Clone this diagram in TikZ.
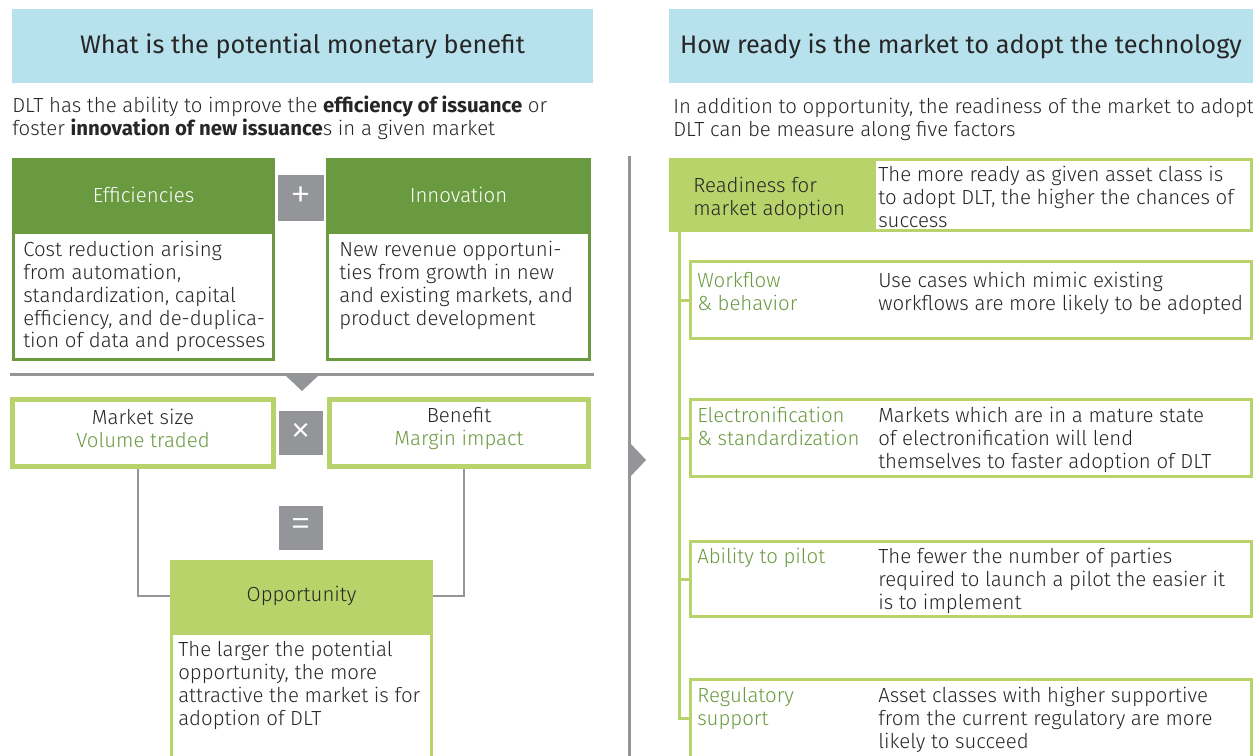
\documentclass[tikz,border=0pt]{standalone}
\usepackage{fontspec}
\setmainfont{Fira Sans}[UprightFont={* Light}, BoldFont={* Bold}]
\newfontfamily\headfamily{Fira Sans}
\newfontfamily\opfamily{Fira Sans}[UprightFont={* Light}]
\usetikzlibrary{fit}
\definecolor{hdrblue}{HTML}{B7E1ED}
\definecolor{dkgreen}{HTML}{6A9A40}
\definecolor{ltgreen}{HTML}{B8D36A}
\definecolor{opgray}{HTML}{939598}
\definecolor{txt}{HTML}{262626}
\newcommand{\bodyfont}{\fontsize{15.3pt}{17.1pt}\selectfont}
\newcommand{\headfont}{\headfamily\fontsize{19pt}{22pt}\selectfont}
\newcommand{\opfont}{\opfamily\fontsize{32pt}{32pt}\selectfont}
\begin{document}
\begin{tikzpicture}[x=0.75pt,y=-0.75pt,
  hdr/.style={fill=hdrblue, inner sep=0pt},
  hdrtext/.style={inner sep=0pt, font=\headfont, text=txt},
  dkhead/.style={fill=dkgreen, inner sep=0pt},
  whitetext/.style={inner sep=0pt, font=\bodyfont, text=white},
  dkbody/.style={draw=dkgreen, line width=2.25pt, fill=white, inner sep=0pt},
  ltbox/.style={draw=ltgreen, line width=2.25pt, fill=white, inner sep=0pt},
  thickbox/.style={draw=ltgreen, line width=3.75pt, fill=white, inner sep=0pt},
  ltfill/.style={fill=ltgreen, inner sep=0pt},
  opbox/.style={fill=opgray, inner sep=0pt},
  optext/.style={inner sep=0pt, text=white, font=\opfont},
  txtblock/.style={anchor=north west, align=left, inner sep=0pt, font=\bodyfont, text=txt},
  lbl/.style={txtblock, text=dkgreen},
  ctext/.style={align=center, inner sep=0pt, font=\bodyfont, text=txt},
  conn/.style={draw=opgray, line width=1.5pt},
  rule/.style={draw=opgray, line width=2.25pt},
  tree/.style={draw=ltgreen, line width=2.25pt},
  openbox/.style={draw=ltgreen, line width=2.25pt}
]
\useasboundingbox (0,0) rectangle (1253,756);

% headers
\node[hdr, fit={(12,9)(593,83)}] (hl) {};
\node[hdrtext] (hlt) at (hl.center) {What is the potential monetary benefit};
\node[hdr, fit={(669,9)(1253,83)}] (hr) {};
\node[hdrtext] (hrt) at (hr.center) {How ready is the market to adopt the technology};

\node[txtblock] (introl) at (12,96) {DLT has the ability to improve the \textbf{efficiency of issuance} or\\foster \textbf{innovation of new issuance}s in a given market};
\node[txtblock] (intror) at (673,98) {In addition to opportunity, the readiness of the market to adopt\\DLT can be measure along five factors};

% efficiencies / innovation
\node[dkbody, fit={(13.5,232)(273.5,359.5)}] (effb) {};
\node[dkhead, fit={(12,158)(275,232)}] (effh) {};
\node[whitetext] (effht) at (effh.center) {Efficiencies};
\node[txtblock] (efft) at (23,241) {Cost reduction arising\\from automation,\\standardization, capital\\efficiency, and de-duplica-\\tion of data and processes};

\node[dkbody, fit={(327.5,232)(589.5,359.5)}] (innb) {};
\node[dkhead, fit={(326,158)(591,232)}] (innh) {};
\node[whitetext] (innht) at (innh.center) {Innovation};
\node[txtblock] (innt) at (339,241) {New revenue opportuni-\\ties from growth in new\\and existing markets, and\\product development};

\node[opbox, fit={(278,175)(324,221)}] (plus) {};
\node[optext] (plust) at (plus.center) {+};

% rule with down triangle
\draw[rule] (10,374) -- (594,374);
\fill[opgray] (285,375) -- (319,375) -- (302,391) -- cycle;

% market size x benefit
\node[thickbox, fit={(12.5,399.5)(273.5,466.5)}] (ms) {};
\node[ctext] (mst) at (143,428.5) {Market size\\\textcolor{dkgreen}{Volume traded}};
\node[thickbox, fit={(329.5,399.5)(588.5,466.5)}] (ben) {};
\node[ctext] (bent) at (459,428.5) {Benefit\\\textcolor{dkgreen}{Margin impact}};
\node[opbox, fit={(279,411)(323,455)}] (times) {};
\node[optext] (timest) at (times.center) {×};
\node[opbox, fit={(279,506)(323,550)}] (eq) {};
\node[optext] (eqt) at (eq.center) {=};

% opportunity
\node[ltfill, fit={(170,560)(433,632)}] (opph) {};
\node[ctext] (oppht) at (opph.center) {Opportunity};
\draw[openbox] (171.5,756) -- (171.5,633.5) -- (431.5,633.5) -- (431.5,756);
\node[txtblock] (oppt) at (178,641) {The larger the potential\\opportunity, the more\\attractive the market is for\\adoption of DLT};

\draw[conn] ([xshift=-3.75pt]ms.south) |- (opph.west);
\draw[conn] ([xshift=4pt]ben.south) |- (opph.east);

% divider
\draw[rule] (629,156) -- (629,756);
\fill[opgray] (630,443) -- (646,460) -- (630,477) -- cycle;

% readiness
\node[ltfill, fit={(669,158)(873,232)}] (rh) {};
\node[txtblock] (rht) at (693,177) {Readiness for\\market adoption};
\node[ltbox, fit={(874.5,159.5)(1251.5,230.5)}] (rd) {};
\node[txtblock] (rdt) at (878,166) {The more ready as given asset class is\\to adopt DLT, the higher the chances of\\success};

\coordinate (trunk) at (679,232);

\node[ltbox, fit={(690.5,261.5)(1251.5,338.5)}] (wf) {};
\node[lbl] (wfl) at (697,272) {Workflow\\\& behavior};
\node[txtblock] (wft) at (878,272) {Use cases which mimic existing\\workflows are more likely to be adopted};

\node[ltbox, fit={(690.5,399.5)(1251.5,476.5)}] (el) {};
\node[lbl] (ell) at (697,407) {Electronification\\\& standardization};
\node[txtblock] (elt) at (878,407) {Markets which are in a mature state\\of electronification will lend\\themselves to faster adoption of DLT};

\node[ltbox, fit={(690.5,541.5)(1251.5,616.5)}] (ab) {};
\node[lbl] (abl) at (697,548) {Ability to pilot};
\node[txtblock] (abt) at (878,548) {The fewer the number of parties\\required to launch a pilot the easier it\\is to implement};

\draw[openbox] (690.5,756) -- (690.5,679.5) -- (1251.5,679.5) -- (1251.5,756);
\coordinate (rgw) at (689,718);
\node[lbl] (rgl) at (697,687) {Regulatory\\support};
\node[txtblock] (rgt) at (878,687) {Asset classes with higher supportive\\from the current regulatory are more\\likely to succeed};

\draw[tree] (trunk) |- (wf.west);
\draw[tree] (trunk) |- (el.west);
\draw[tree] (trunk) |- (ab.west);
\draw[tree] (trunk) |- (rgw);
\end{tikzpicture}
\end{document}
